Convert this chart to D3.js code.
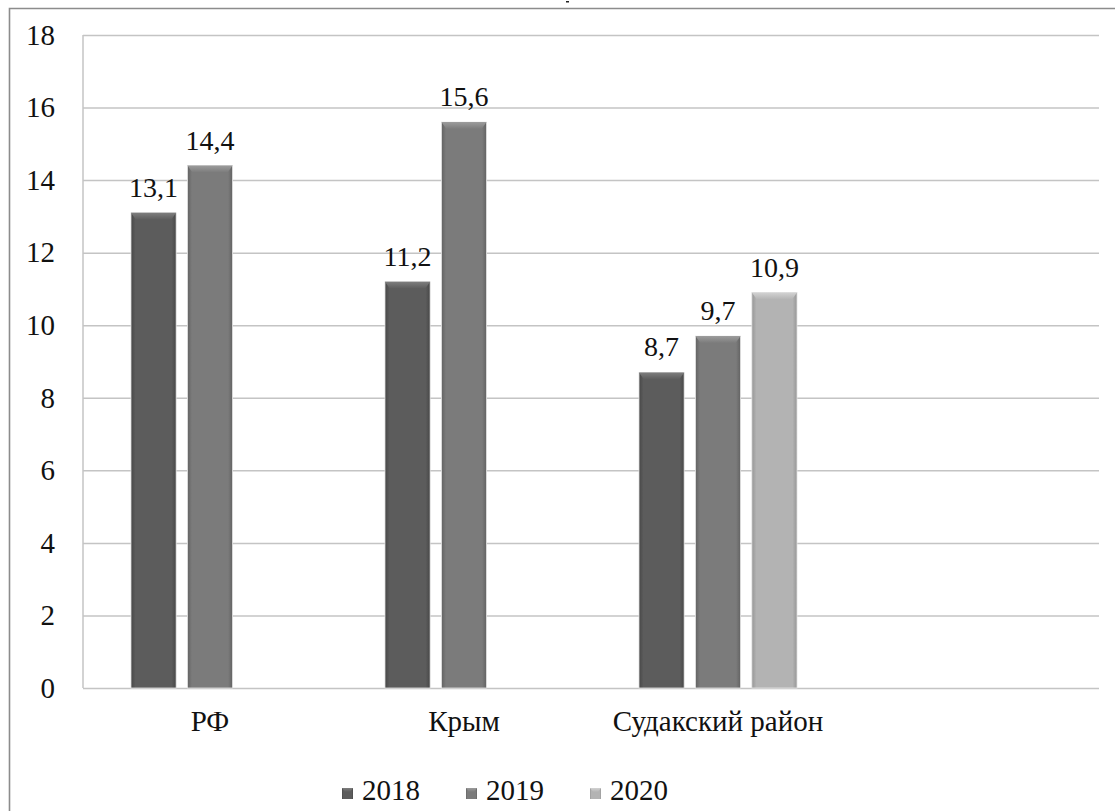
<!DOCTYPE html>
<html>
<head>
<meta charset="utf-8">
<script src="https://cdn.jsdelivr.net/npm/d3@7/dist/d3.min.js"></script>
</head>
<body style="margin:0; background:#fff">
<svg id="fig" width="1115" height="811" style="display:block; font-family: 'Liberation Serif', serif;" font-family="Liberation Serif"></svg>
<script>
// Categories (the last slot is an empty placeholder column)
const categories = ["РФ", "Крым", "Судакский район", " "];
const seriesNames = ["2018", "2019", "2020"];
const values2018 = [13.1, 11.2, 8.7, null];
const values2019 = [14.4, 15.6, 9.7, null];
const values2020 = [null, null, 10.9, null];
const yTicks = [0, 2, 4, 6, 8, 10, 12, 14, 16, 18];

const seriesValues = [values2018, values2019, values2020];
const baseColors = ["#5c5c5c", "#7b7b7b", "#b3b3b3"];
const edgeColors = ["#474747", "#626262", "#969696"];
const topColors  = ["#7e7e7e", "#9c9c9c", "#d2d2d2"];

const fontSize = 29;
const valueFontSize = 28;
const styleText = (sel, size = fontSize) => sel
  .attr("font-family", "Liberation Serif")
  .style("font-family", '"Liberation Serif", serif')
  .attr("font-size", size)
  .style("font-size", size + "px")
  .style("fill", "#111");

const svg = d3.select("#fig");
const W = 1115, H = 811;
const plot = { left: 83, right: 1099, top: 35, bottom: 688 };

// outer frame (right/bottom run off the canvas)
svg.append("path")
  .attr("d", `M9.5,${H + 2} V8.5 H${W + 2}`)
  .attr("fill", "none")
  .attr("stroke", "#8c8c8c")
  .attr("stroke-width", 1.6);
// small tick mark above the frame
svg.append("rect").attr("x", 566).attr("y", 1).attr("width", 3).attr("height", 1.5).attr("fill", "#222");

const x0 = d3.scaleBand().domain(d3.range(categories.length)).range([plot.left, plot.right]).padding(0);
const x1 = d3.scaleBand().domain(seriesNames).range([0, x0.bandwidth()]).paddingInner(0.2).paddingOuter(0.85);
const y = d3.scaleLinear().domain([0, 18]).range([plot.bottom, plot.top]);

// gridlines
const grid = svg.append("g").attr("transform", `translate(${plot.left},0)`)
  .call(d3.axisLeft(y).tickValues(yTicks).tickSize(-(plot.right - plot.left)).tickFormat(""));
grid.select(".domain").remove();
grid.selectAll("line").attr("stroke", "#c4c4c4").attr("stroke-width", 1.5);

// left axis line
svg.append("line")
  .attr("x1", plot.left).attr("x2", plot.left)
  .attr("y1", y(18)).attr("y2", y(0))
  .attr("stroke", "#c4c4c4").attr("stroke-width", 1.5);

// y tick labels
const yAxis = svg.append("g").attr("transform", `translate(${plot.left},0)`)
  .call(d3.axisLeft(y).tickValues(yTicks).tickSize(0).tickPadding(28));
yAxis.attr("font-family", "Liberation Serif").attr("font-size", fontSize);
yAxis.select(".domain").remove();
yAxis.selectAll("text").call(styleText);

// gradients for bar bodies
const defs = svg.append("defs");
seriesNames.forEach((s, i) => {
  const g = defs.append("linearGradient").attr("id", "body" + i)
    .attr("x1", "0").attr("x2", "1").attr("y1", "0").attr("y2", "0");
  g.append("stop").attr("offset", "0").attr("stop-color", edgeColors[i]);
  g.append("stop").attr("offset", "0.1").attr("stop-color", baseColors[i]);
  g.append("stop").attr("offset", "0.9").attr("stop-color", baseColors[i]);
  g.append("stop").attr("offset", "1").attr("stop-color", edgeColors[i]);
  const t = defs.append("linearGradient").attr("id", "top" + i)
    .attr("x1", "0").attr("x2", "0").attr("y1", "0").attr("y2", "1");
  t.append("stop").attr("offset", "0").attr("stop-color", topColors[i]);
  t.append("stop").attr("offset", "1").attr("stop-color", baseColors[i]);
});

const fmt = v => String(v).replace(".", ",");

// bars
seriesNames.forEach((s, si) => {
  const data = seriesValues[si].map((v, ci) => ({ v, ci })).filter(d => d.v != null);
  const g = svg.append("g");
  const bars = g.selectAll("g.bar").data(data).join("g").attr("class", "bar");
  const bx = d => x0(d.ci) + x1(s);
  const bw = x1.bandwidth();
  bars.append("rect")
    .attr("x", bx).attr("y", d => y(d.v))
    .attr("width", bw).attr("height", d => y(0) - y(d.v))
    .attr("fill", `url(#body${si})`)
    .attr("stroke", "#e6e6e6").attr("stroke-width", 0.8);
  // bevelled top
  bars.append("path")
    .attr("d", d => {
      const x = bx(d), t = y(d.v), b = 7, e = 5;
      return `M${x},${t} H${x + bw} L${x + bw - e},${t + b} H${x + e} Z`;
    })
    .attr("fill", `url(#top${si})`);
  // value labels
  g.selectAll("text.val").data(data).join("text").attr("class", "val")
    .attr("x", d => bx(d) + bw / 2)
    .attr("y", d => y(d.v) - 16)
    .attr("text-anchor", "middle")
    .text(d => fmt(d.v))
    .call(styleText, valueFontSize);
});

// category labels
svg.append("g").selectAll("text").data(categories).join("text")
  .attr("x", (d, i) => x0(i) + x0.bandwidth() / 2)
  .attr("y", 731)
  .attr("text-anchor", "middle")
  .text(d => d)
  .call(styleText);

// legend
const legend = svg.append("g").selectAll("g").data(seriesNames).join("g")
  .attr("transform", (d, i) => `translate(${342 + i * 124},0)`);
legend.append("rect")
  .attr("x", 0).attr("y", 788).attr("width", 11).attr("height", 11)
  .attr("fill", (d, i) => `url(#body${i})`);
legend.append("path")
  .attr("d", "M0,788 H11 L8,792 H3 Z")
  .attr("fill", (d, i) => `url(#top${i})`);
legend.append("text")
  .attr("x", 20).attr("y", 800)
  .text(d => d)
  .call(styleText);
</script>
</body>
</html>
